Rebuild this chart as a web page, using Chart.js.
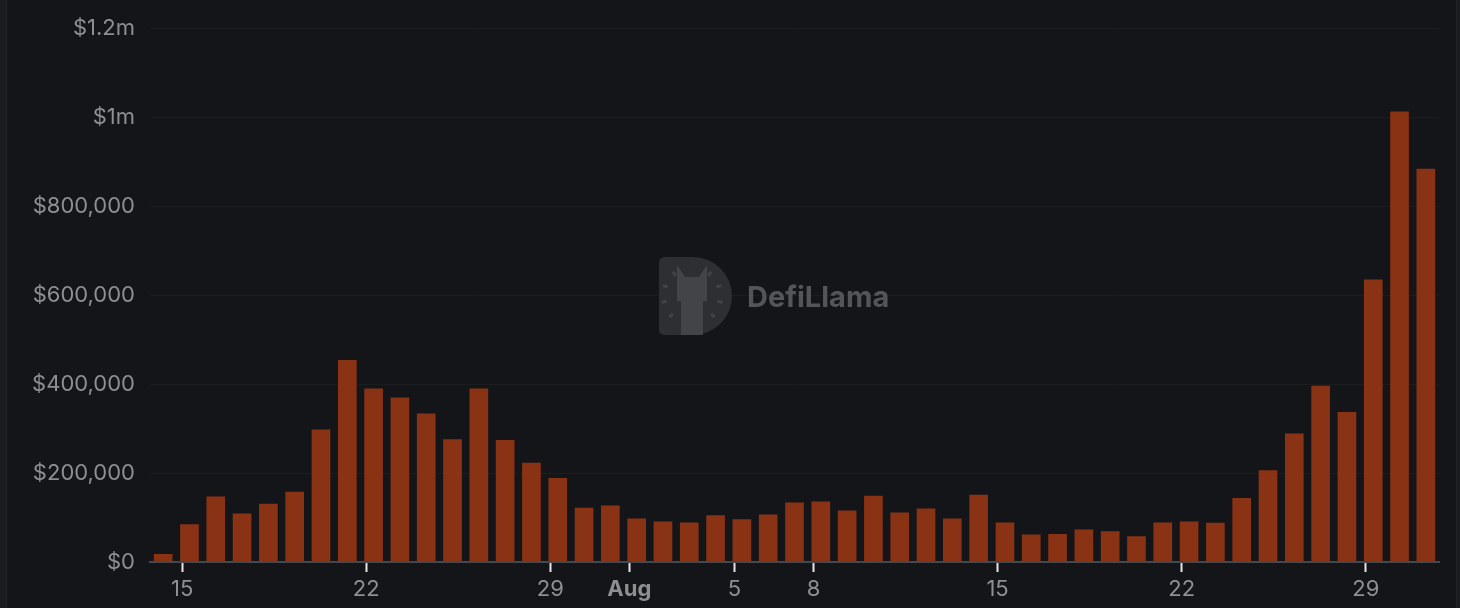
<!DOCTYPE html>
<html>
<head>
<meta charset="utf-8">
<script src="https://cdn.jsdelivr.net/npm/chart.js@4/dist/chart.umd.min.js"></script>
<style>
  html, body { margin: 0; padding: 0; background: #1b1c1f; }
  #wrap {
    position: absolute; left: 6px; top: 0; width: 1449px; height: 608px;
    background: #141518; border-left: 1px solid #222327; border-right: 1px solid #222327;
  }
</style>
</head>
<body>
<div id="wrap"><canvas id="volChart"></canvas></div>
<script>
// daily volume, Jul 14 -> Aug 31
const days = [
  "Jul 14", "Jul 15", "Jul 16", "Jul 17", "Jul 18", "Jul 19", "Jul 20", "Jul 21", "Jul 22", "Jul 23",
  "Jul 24", "Jul 25", "Jul 26", "Jul 27", "Jul 28", "Jul 29", "Jul 30", "Jul 31", "Aug 1", "Aug 2",
  "Aug 3", "Aug 4", "Aug 5", "Aug 6", "Aug 7", "Aug 8", "Aug 9", "Aug 10", "Aug 11", "Aug 12",
  "Aug 13", "Aug 14", "Aug 15", "Aug 16", "Aug 17", "Aug 18", "Aug 19", "Aug 20", "Aug 21", "Aug 22",
  "Aug 23", "Aug 24", "Aug 25", "Aug 26", "Aug 27", "Aug 28", "Aug 29", "Aug 30", "Aug 31"
];
const volume = [
  18000, 85000, 147000, 109000, 131000, 158000, 298000, 454000, 390000, 370000,
  334000, 276000, 390000, 274000, 223000, 189000, 122000, 127000, 98000, 91000,
  89000, 105000, 96000, 107000, 134000, 136000, 116000, 149000, 111000, 120000,
  98000, 151000, 89000, 62000, 63000, 73000, 69000, 58000, 89000, 91000,
  88000, 144000, 206000, 289000, 396000, 337000, 635000, 1013000, 884000
];
// which days get a tick and what they read
const tickDays = ["Jul 15", "Jul 22", "Jul 29", "Aug 1", "Aug 5", "Aug 8", "Aug 15", "Aug 22", "Aug 29"];
const tickLabels = ["15", "22", "29", "Aug", "5", "8", "15", "22", "29"];
const yTicks = [0, 200000, 400000, 600000, 800000, 1000000, 1200000];

const FONT = "Inter, 'Liberation Sans', sans-serif";

function money(v) {
  if (v >= 1000000) return "$" + (v / 1000000) + "m";
  return "$" + v.toLocaleString("en-US");
}

// faint logo in the middle of the plot
const watermark = {
  id: "watermark",
  beforeDatasetsDraw(chart) {
    const c = chart.ctx;
    const x = 652, y = 257;
    c.save();
    c.fillStyle = "#2e2f32";
    c.beginPath();
    c.moveTo(x + 6, y);
    c.lineTo(x + 34, y);
    c.arc(x + 34, y + 39, 39, -Math.PI / 2, Math.PI / 2);
    c.lineTo(x + 6, y + 78);
    c.quadraticCurveTo(x, y + 78, x, y + 72);
    c.lineTo(x, y + 6);
    c.quadraticCurveTo(x, y, x + 6, y);
    c.fill();
    // llama
    c.fillStyle = "#434447";
    c.fillRect(x + 22, y + 38, 22, 40);
    c.beginPath();
    c.moveTo(x + 18, y + 8);
    c.lineTo(x + 26, y + 20);
    c.lineTo(x + 40, y + 20);
    c.lineTo(x + 48, y + 8);
    c.lineTo(x + 48, y + 44);
    c.lineTo(x + 18, y + 44);
    c.closePath();
    c.fill();
    c.strokeStyle = "#434447";
    c.lineWidth = 3;
    [-0.9, -0.35, 0.2, 0.75].forEach((a) => {
      c.beginPath();
      c.moveTo(x + 33 + Math.cos(a) * 26, y + 39 + Math.sin(a) * 26);
      c.lineTo(x + 33 + Math.cos(a) * 31, y + 39 + Math.sin(a) * 31);
      c.stroke();
      c.beginPath();
      c.moveTo(x + 33 - Math.cos(a) * 26, y + 39 + Math.sin(a) * 26);
      c.lineTo(x + 33 - Math.cos(a) * 31, y + 39 + Math.sin(a) * 31);
      c.stroke();
    });
    c.fillStyle = "#545558";
    c.font = "bold 29px " + FONT;
    c.textBaseline = "middle";
    c.fillText("DefiLlama", 740, 298);
    c.restore();
  }
};

const ctx = document.getElementById("volChart").getContext("2d");
new Chart(ctx, {
  type: "bar",
  data: {
    datasets: [{
      label: "Volume",
      data: volume.map((v, i) => ({ x: i, y: v })),
      backgroundColor: "#8a3214",
      barPercentage: 0.71,
      categoryPercentage: 1
    }]
  },
  options: {
    responsive: true,
    maintainAspectRatio: false,
    animation: false,
    layout: { padding: { top: 24, right: 17, left: 0, bottom: 0 } },
    plugins: { legend: { display: false }, tooltip: { enabled: false } },
    scales: {
      x: {
        type: "linear",
        offset: false,
        min: -0.5,
        max: days.length - 0.5,
        afterBuildTicks: (scale) => {
          scale.ticks = tickDays.map(d => ({ value: days.indexOf(d) - 0.28 }));
        },
        afterFit: (scale) => { scale.height = 46; },
        grid: {
          offset: false,
          drawOnChartArea: false,
          drawTicks: true,
          tickLength: 10,
          tickColor: "#e6e6e6",
          tickWidth: 2
        },
        border: { color: "#45484d", width: 2 },
        ticks: {
          autoSkip: false,
          maxRotation: 0,
          padding: 4,
          callback: (value, index) => tickLabels[index],
          color: "#8e8f91",
          font: (c) => ({
            family: FONT,
            size: 22,
            weight: c.tick && c.tick.label === "Aug" ? "bold" : "normal"
          })
        }
      },
      y: {
        min: 0,
        max: 1200000,
        afterBuildTicks: (scale) => {
          scale.ticks = yTicks.map(v => ({ value: v }));
        },
        afterFit: (scale) => { scale.width = 143; },
        grid: { color: "#1c1d21", drawTicks: false },
        border: { display: false },
        ticks: {
          padding: 15,
          color: "#8e8f91",
          font: { family: FONT, size: 22 },
          callback: (v) => money(v)
        }
      }
    }
  },
  plugins: [watermark]
});
</script>
</body>
</html>
